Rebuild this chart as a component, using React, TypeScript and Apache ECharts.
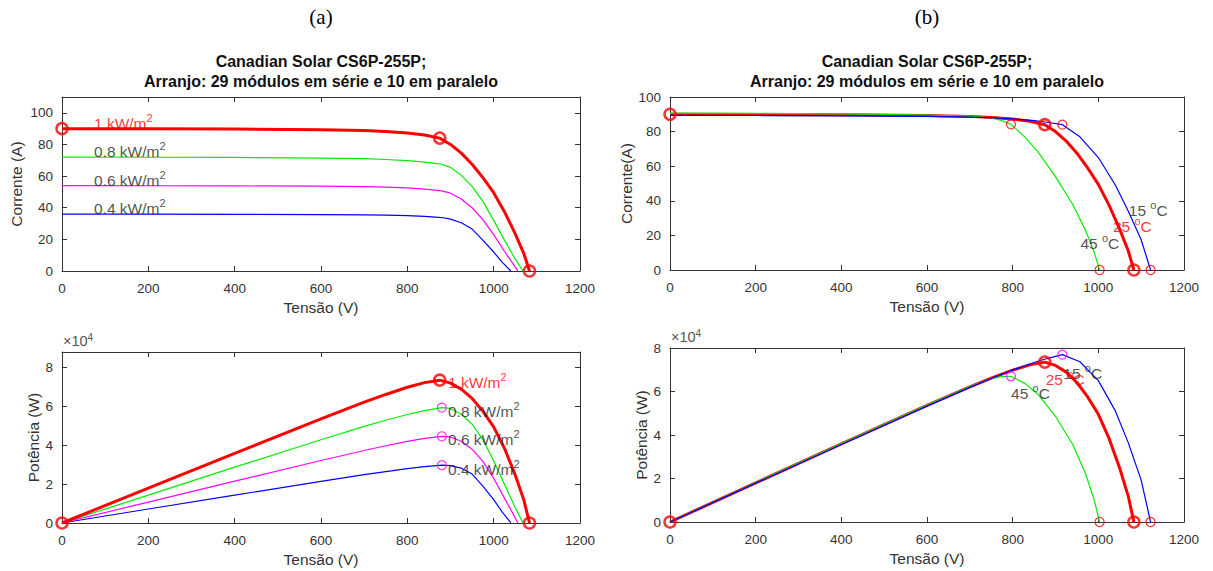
import React, { useEffect, useRef } from "react";
import * as echarts from "echarts";

// ---------- DATA ----------
// Irradiance curves at 25 °C: voltage (V), current (A), power (W)
const v1000 = [0, 200, 400, 600, 700, 750, 800, 840, 875, 900, 925, 950, 975, 1000, 1025, 1050, 1070, 1083];
const i1000 = [90, 89.9, 89.7, 89.3, 88.8, 88.2, 87.3, 86, 84, 80, 74.5, 67.5, 59, 49.5, 37.5, 23.5, 11, 0];
const p1000 = [0, 17980, 35880, 53580, 62160, 66150, 69840, 72240, 73500, 72000, 68910, 64130, 57530, 49500, 38440, 24680, 11770, 0];

const v800 = [0, 200, 400, 600, 700, 750, 800, 840, 880, 900, 925, 950, 975, 1000, 1025, 1050, 1068];
const i800 = [72, 71.9, 71.8, 71.4, 71, 70.5, 69.8, 68.8, 67.5, 65.5, 60.5, 53.5, 44, 32, 19.5, 7.5, 0];
const p800 = [0, 14380, 28720, 42840, 49700, 52875, 55840, 57790, 59400, 58950, 55960, 50825, 42900, 32000, 19990, 7875, 0];

const v600 = [0, 200, 400, 600, 700, 750, 800, 840, 880, 900, 925, 950, 975, 1000, 1025, 1045, 1056];
const i600 = [54, 53.9, 53.8, 53.6, 53.3, 53, 52.5, 51.8, 50.7, 49.2, 45.5, 40, 32.5, 23, 12.5, 4.5, 0];
const p600 = [0, 10780, 21520, 32160, 37310, 39750, 42000, 43510, 44620, 44280, 42090, 38000, 31690, 23000, 12810, 4700, 0];

const v400 = [0, 200, 400, 600, 700, 750, 800, 840, 880, 900, 925, 950, 975, 1000, 1020, 1040];
const i400 = [36, 35.95, 35.85, 35.7, 35.5, 35.3, 35, 34.5, 33.8, 32.8, 30.5, 26.5, 19.5, 12, 5.5, 0];
const p400 = [0, 7190, 14340, 21420, 24850, 26475, 28000, 28980, 29740, 29520, 28210, 25175, 19010, 12000, 5610, 0];

// Temperature curves at 1 kW/m² (25 °C uses the 1 kW/m² arrays)
const v15 = [0, 200, 400, 600, 700, 750, 800, 850, 880, 916, 957, 1000, 1040, 1070, 1100, 1122];
const i15 = [89.4, 89.3, 89.1, 88.8, 88.4, 88, 87.4, 86.3, 85.4, 84, 77, 65, 49, 34, 17.5, 0];
const p15 = [0, 17860, 35640, 53280, 61880, 66000, 69920, 73355, 75150, 76940, 73690, 65000, 50960, 36380, 19250, 0];

const v45 = [0, 200, 400, 600, 700, 750, 775, 796, 830, 860, 900, 940, 970, 990, 1003];
const i45 = [90.7, 90.5, 90.2, 89.6, 89, 88, 86.3, 84.2, 76.5, 68, 54, 38, 23, 10.5, 0];
const p45 = [0, 18100, 36080, 53760, 62300, 66000, 66880, 67020, 63495, 58480, 48600, 35720, 22310, 10395, 0];

// Marked points
const ivMain = [[0, 90], [875, 84], [1083, 0]];
const pvMain = [[0, 0], [875, 73500], [1083, 0]];
const pvIrrMpp = [[880, 59400], [880, 44620], [880, 29740]];
const ivTempPts = [[796, 84.2], [916, 84], [1003, 0], [1122, 0]];
const pvTempMpp = [[796, 67020], [916, 76940]];
const pvTempVoc = [[1003, 0], [1122, 0]];

// Annotation texts and their anchors (data coordinates)
const irrTexts = ["1 kW/m", "0.8 kW/m", "0.6 kW/m", "0.4 kW/m"];
const irrAnchorIV = [[73, 93.5], [73, 75.5], [73, 57.5], [73, 39.5]];
const irrAnchorPV = [[893, 72300], [893, 57500], [893, 42900], [893, 27700]];
const tempTexts = ["15 ", "25 ", "45 "];
const tempAnchorIV = [[1070, 34.2], [1033, 25], [957, 15.4]];
const tempAnchorPV = [[917, 68100], [876, 65300], [795, 59300]];

const xTicksMax = 1200;
const xInterval = 200;

// ---------- STYLE ----------
const SANS = '"Liberation Sans", Arial, Helvetica, sans-serif';
const SERIF = '"Liberation Serif", "DejaVu Serif", serif';
const AX = "#333333";
const RED = "#ff0000";
const GREEN = "#00ee00";
const MAG = "#ff00ff";
const BLUE = "#0000ff";
const DARK = "#262626";

const grids = [
  { left: 62, top: 97, width: 518, height: 174 },
  { left: 670, top: 97, width: 514, height: 173 },
  { left: 62, top: 352, width: 518, height: 171 },
  { left: 670, top: 348, width: 514, height: 174 },
];

const yConf = [
  { max: 110, interval: 20, name: "Corrente (A)", gap: 38, fmt: (v: number) => String(v) },
  { max: 100, interval: 20, name: "Corrente(A)", gap: 24, fmt: (v: number) => String(v) },
  { max: 88000, interval: 20000, name: "Potência (W)", gap: 21, fmt: (v: number) => String(v / 10000) },
  { max: 80000, interval: 20000, name: "Potência (W)", gap: 21, fmt: (v: number) => String(v / 10000) },
];

const zip = (v: number[], y: number[]) => v.map((x, k) => [x, y[k]]);

export default function App() {
  const ref = useRef<HTMLDivElement>(null);
  useEffect(() => {
    if (!ref.current) return;
    const chart = echarts.init(ref.current, undefined, { renderer: "svg" });

    const xAxis: any[] = [];
    const yAxis: any[] = [];
    grids.forEach((_, g) => {
      const common = {
        gridIndex: g,
        type: "value",
        min: 0,
        splitLine: { show: false },
        axisLine: { show: true, onZero: false, lineStyle: { color: AX, width: 1 } },
        axisTick: { show: true, inside: true, length: 5, lineStyle: { color: AX } },
      };
      xAxis.push({
        ...common,
        position: "bottom",
        max: xTicksMax,
        interval: xInterval,
        axisLabel: { color: AX, fontSize: 13.5, fontFamily: SANS, margin: 10, formatter: (v: number) => String(v) },
        name: "Tensão (V)",
        nameLocation: "middle",
        nameGap: 28,
        nameTextStyle: { color: AX, fontSize: 15.5, fontFamily: SANS },
      });
      xAxis.push({
        ...common,
        position: "top",
        max: xTicksMax,
        interval: xInterval,
        axisLabel: { show: false },
      });
      const yc = yConf[g];
      yAxis.push({
        ...common,
        position: "left",
        max: yc.max,
        interval: yc.interval,
        axisLabel: {
          color: AX,
          fontSize: 13.5,
          fontFamily: SANS,
          margin: 9,
          showMaxLabel: yc.max % yc.interval === 0,
          formatter: yc.fmt,
        },
        name: yc.name,
        nameLocation: "middle",
        nameGap: yc.gap,
        nameTextStyle: { color: AX, fontSize: 15.5, fontFamily: SANS },
      });
      yAxis.push({
        ...common,
        position: "right",
        max: yc.max,
        interval: yc.interval,
        axisLabel: { show: false },
      });
    });

    const line = (g: number, v: number[], y: number[], color: string, width: number, z: number) => ({
      type: "line",
      xAxisIndex: 2 * g,
      yAxisIndex: 2 * g,
      data: zip(v, y),
      showSymbol: false,
      symbol: "none",
      smooth: false,
      clip: false,
      lineStyle: { color, width, join: "round" },
      z,
      silent: true,
    });
    const marks = (g: number, pts: number[][], color: string, size: number, lw: number, z: number) => ({
      type: "scatter",
      xAxisIndex: 2 * g,
      yAxisIndex: 2 * g,
      data: pts,
      symbol: "circle",
      symbolSize: size,
      clip: false,
      itemStyle: { color: "rgba(0,0,0,0)", borderColor: color, borderWidth: lw },
      z,
      silent: true,
    });
    const richSup = (color: string) => ({
      m: { fontSize: 15.5, lineHeight: 22, fontFamily: SANS, color, verticalAlign: "middle" },
      s: { fontSize: 11, lineHeight: 11, fontFamily: SANS, color, verticalAlign: "top" },
    });
    const texts = (g: number, anchors: number[][], strs: string[], colors: string[], suffix: (t: string) => string) => ({
      type: "scatter",
      xAxisIndex: 2 * g,
      yAxisIndex: 2 * g,
      symbol: "circle",
      symbolSize: 1,
      clip: false,
      itemStyle: { color: "rgba(0,0,0,0)" },
      z: 20,
      silent: true,
      data: anchors.map((p, k) => ({
        value: p,
        label: {
          show: true,
          position: "right",
          distance: 0,
          formatter: suffix(strs[k]),
          rich: richSup(colors[k]),
        },
      })),
    });
    const irrSuffix = (t: string) => `{m|${t}}{s|2}`;
    const tempSuffix = (t: string) => `{m|${t}}{s|o}{m|C}`;

    const series: any[] = [
      // (a) I-V
      line(0, v400, i400, BLUE, 1.2, 3),
      line(0, v600, i600, MAG, 1.2, 3),
      line(0, v800, i800, GREEN, 1.2, 3),
      line(0, v1000, i1000, RED, 3, 4),
      marks(0, ivMain, RED, 11, 2.5, 10),
      texts(0, irrAnchorIV, irrTexts, [RED, DARK, DARK, DARK], irrSuffix),
      // (b) I-V
      line(1, v1000, i1000, RED, 3, 3),
      line(1, v45, i45, GREEN, 1.2, 4),
      line(1, v15, i15, BLUE, 1.2, 4),
      marks(1, ivMain, RED, 11, 2.5, 10),
      marks(1, ivTempPts, RED, 9, 1.2, 10),
      texts(1, tempAnchorIV, tempTexts, [DARK, RED, DARK], tempSuffix),
      // (a) P-V
      line(2, v400, p400, BLUE, 1.2, 3),
      line(2, v600, p600, MAG, 1.2, 3),
      line(2, v800, p800, GREEN, 1.2, 3),
      line(2, v1000, p1000, RED, 3, 4),
      marks(2, pvMain, RED, 11, 2.5, 10),
      marks(2, pvIrrMpp, MAG, 9, 1.2, 10),
      texts(2, irrAnchorPV, irrTexts, [RED, DARK, DARK, DARK], irrSuffix),
      // (b) P-V
      line(3, v1000, p1000, RED, 3, 3),
      line(3, v45, p45, GREEN, 1.2, 4),
      line(3, v15, p15, BLUE, 1.2, 4),
      marks(3, pvMain, RED, 11, 2.5, 10),
      marks(3, pvTempMpp, MAG, 9, 1.2, 10),
      marks(3, pvTempVoc, RED, 9, 1.2, 10),
      texts(3, tempAnchorPV, tempTexts, [DARK, RED, DARK], tempSuffix),
    ];

    const graphic: any[] = [];
    [0, 1].forEach((g) => {
      const gr = grids[g];
      const cx = gr.left + gr.width / 2;
      graphic.push({
        type: "text",
        x: cx,
        y: 17,
        style: { text: g === 0 ? "(a)" : "(b)", font: `21px ${SERIF}`, fill: "#000", textAlign: "center", textVerticalAlign: "middle" },
      });
      graphic.push({
        type: "text",
        x: cx,
        y: 61,
        style: { text: "Canadian Solar CS6P-255P;", font: `bold 16px ${SANS}`, fill: "#111", textAlign: "center", textVerticalAlign: "middle" },
      });
      graphic.push({
        type: "text",
        x: cx,
        y: 81,
        style: { text: "Arranjo: 29 módulos em série e 10 em paralelo", font: `bold 16px ${SANS}`, fill: "#111", textAlign: "center", textVerticalAlign: "middle" },
      });
    });
    [2, 3].forEach((g) => {
      const gr = grids[g];
      graphic.push({
        type: "text",
        x: gr.left + 1,
        y: gr.top - 2,
        style: {
          text: "{a|×10}{b|4}",
          textVerticalAlign: "bottom",
          rich: {
            a: { fontSize: 14.5, lineHeight: 18, fontFamily: SANS, fill: "#555", verticalAlign: "middle" },
            b: { fontSize: 10, lineHeight: 10, fontFamily: SANS, fill: "#555", verticalAlign: "top" },
          },
        },
      });
    });

    chart.setOption({
      animation: false,
      backgroundColor: "#ffffff",
      grid: grids.map((g) => ({ ...g, containLabel: false })),
      xAxis,
      yAxis,
      series,
      graphic,
    });
    return () => chart.dispose();
  }, []);
  return <div ref={ref} style={{ position: "absolute", left: 0, top: 0, width: 1213, height: 571 }} />;
}
